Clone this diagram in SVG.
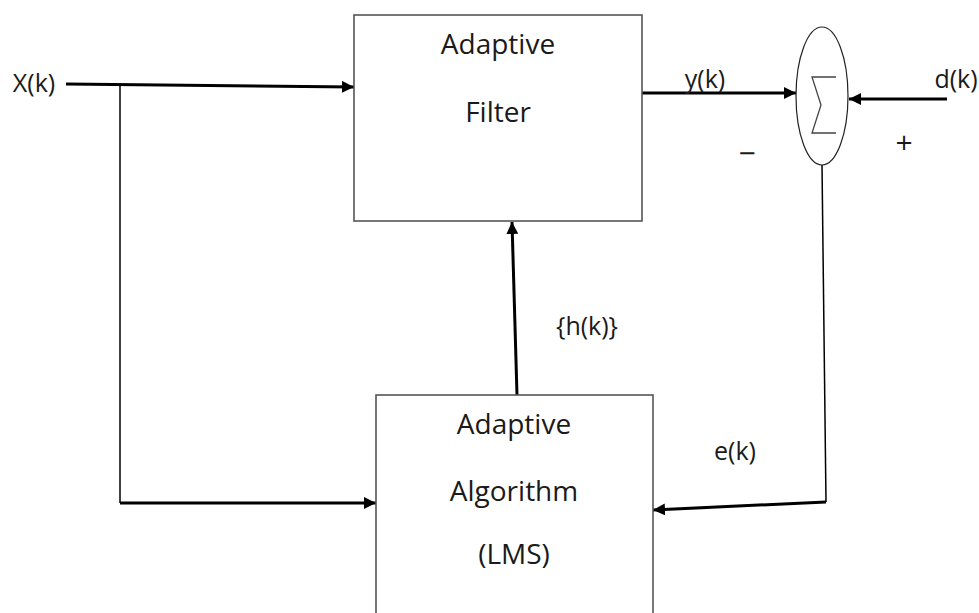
<svg xmlns="http://www.w3.org/2000/svg" width="979" height="613" viewBox="0 0 979 613">
<defs>
<style>
text{font-family:"Open Sans","Liberation Sans",sans-serif;fill:#1a1a1a;text-anchor:middle}
.lbl{font-size:28px}
.sm{font-size:25px}
.sign{font-size:30px}
.box{fill:#fff;stroke:#555;stroke-width:1.6}
.thick{stroke:#000;stroke-width:3;fill:none}
.thin{stroke:#000;stroke-width:1.5;fill:none}
</style>
<marker id="ah" viewBox="0 0 12 12" refX="12" refY="6" markerWidth="12" markerHeight="12" markerUnits="userSpaceOnUse" orient="auto">
<path d="M0,0 L12,6 L0,12 Z" fill="#000"/>
</marker>
</defs>
<rect width="979" height="613" fill="#fff"/>
<g id="connectors">
<path class="thick" d="M66,84 L354,87" marker-end="url(#ah)"/>
<path class="thin" d="M120,84 L120,503"/>
<path class="thick" d="M120,503 L376,503" stroke-width="2.5" marker-end="url(#ah)"/>
<path class="thick" d="M642,93 L796,93" marker-end="url(#ah)"/>
<path class="thick" d="M947,99 L849,99" marker-end="url(#ah)"/>
<path class="thin" d="M822,165 L826,502"/>
<path class="thick" d="M826,502 L653,510" stroke-width="2.5" marker-end="url(#ah)"/>
<path class="thick" d="M517,395 L512,222" stroke-width="3.5" marker-end="url(#ah)"/>
</g>
<g id="adaptive-filter">
<rect class="box" x="354" y="15" width="288" height="206"/>
<text class="lbl" x="498" y="54">Adaptive</text>
<text class="lbl" x="498" y="122">Filter</text>
</g>
<g id="adaptive-algorithm">
<rect class="box" x="376" y="395" width="277" height="230"/>
<text class="lbl" x="514" y="434">Adaptive</text>
<text class="lbl" x="514" y="501">Algorithm</text>
<text class="lbl" x="514" y="564">(LMS)</text>
</g>
<g id="summer">
<ellipse cx="822" cy="96" rx="26" ry="69" fill="#fff" stroke="#222" stroke-width="1.2"/>
<polyline points="836,77 812,77 821,105 812,133 836,133" fill="none" stroke="#444" stroke-width="1.3"/>
</g>
<g id="labels">
<text class="sm" x="34" y="92">X(k)</text>
<text class="sm" x="705" y="88">y(k)</text>
<text class="sm" x="956" y="88">d(k)</text>
<text class="sign" x="904" y="153">+</text>
<text class="sign" x="747" y="164">−</text>
<text class="sm" x="587" y="335">{h(k)}</text>
<text class="sm" x="735" y="460">e(k)</text>
</g>
</svg>
